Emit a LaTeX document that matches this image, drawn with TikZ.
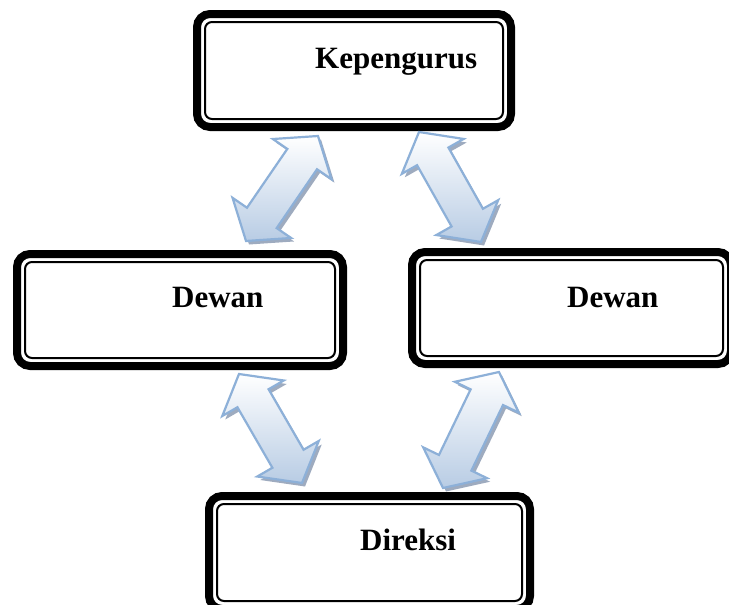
\documentclass[tikz,border=0pt]{standalone}
\usepackage{fontspec}
\setmainfont{Liberation Serif}
\usetikzlibrary{calc}
\definecolor{arrowline}{RGB}{141,176,216}
\definecolor{arrowbot}{RGB}{184,204,228}
\definecolor{arrowshadow}{RGB}{118,136,164}

\tikzset{
  box/.style={draw=black, line width=8pt, rounded corners=13pt,
    minimum width=314pt, minimum height=113pt, inner sep=0pt, outer sep=0pt, fill=white},
  innerline/.style={draw=black, line width=2pt, rounded corners=7pt},
  lbl/.style={font=\fontsize{31}{31}\selectfont\bfseries, inner sep=0pt, anchor=base west},
  arrowbody/.style={draw=arrowline, line width=2.2pt, top color=white, bottom color=arrowbot, line join=miter},
  arrowshade/.style={fill=arrowshadow, opacity=0.7, draw=none},
}

\newcommand{\dblarrow}[3]{%
  \draw[#3] (#1)
    -- ($(#1)!28pt!(#2)!35.5pt!90:(#2)$)
    -- ($(#1)!28pt!(#2)!18pt!90:(#2)$)
    -- ($(#2)!28pt!(#1)!18pt!-90:(#1)$)
    -- ($(#2)!28pt!(#1)!35.5pt!-90:(#1)$)
    -- (#2)
    -- ($(#2)!28pt!(#1)!35.5pt!90:(#1)$)
    -- ($(#2)!28pt!(#1)!18pt!90:(#1)$)
    -- ($(#1)!28pt!(#2)!18pt!-90:(#2)$)
    -- ($(#1)!28pt!(#2)!35.5pt!-90:(#2)$)
    -- cycle;}

\newcommand{\innerframe}[1]{%
  \draw[innerline] ([shift={(8pt,-8pt)}]#1.north west) rectangle ([shift={(-8pt,8pt)}]#1.south east);}

\begin{document}
\begin{tikzpicture}[x=1pt,y=-1pt]
  \fill[white] (0,0) rectangle (729,605);
  \useasboundingbox (0,0) rectangle (729,605);
  \clip (0,0) rectangle (729,605);

  % boxes
  \node[box] (kep) at (354,70.5) {};
  \node[box, minimum width=326pt, minimum height=112pt] (dewl) at (180,310) {};
  \node[box, minimum width=319pt, minimum height=112pt] (dewr) at (571.5,308) {};
  \node[box, minimum width=321pt] (dir) at (369.5,552.5) {};
  \innerframe{kep}
  \innerframe{dewl}
  \innerframe{dewr}
  \innerframe{dir}

  % labels
  \node[lbl] (kept) at (315,68) {Kepengurus};
  \node[lbl] (dewlt) at (172,307) {Dewan};
  \node[lbl] (dewrt) at (567,307) {Dewan};
  \node[lbl] (dirt) at (360,550) {Direksi};

  % arrow ends
  \coordinate (a1s) at (246,241);
  \coordinate (a1e) at (318,136);
  \coordinate (a2s) at (419,132);
  \coordinate (a2e) at (481,242);
  \coordinate (a3s) at (239,374);
  \coordinate (a3e) at (302,483);
  \coordinate (a4s) at (499,372);
  \coordinate (a4e) at (443,488);

  % shadows
  \begin{scope}[transform canvas={xshift=3pt,yshift=-3.5pt}]
    \dblarrow{a1s}{a1e}{arrowshade}
    \dblarrow{a2s}{a2e}{arrowshade}
    \dblarrow{a3s}{a3e}{arrowshade}
    \dblarrow{a4s}{a4e}{arrowshade}
  \end{scope}

  % arrows
  \dblarrow{a1s}{a1e}{arrowbody}
  \dblarrow{a2s}{a2e}{arrowbody}
  \dblarrow{a3s}{a3e}{arrowbody}
  \dblarrow{a4s}{a4e}{arrowbody}
\end{tikzpicture}
\end{document}
